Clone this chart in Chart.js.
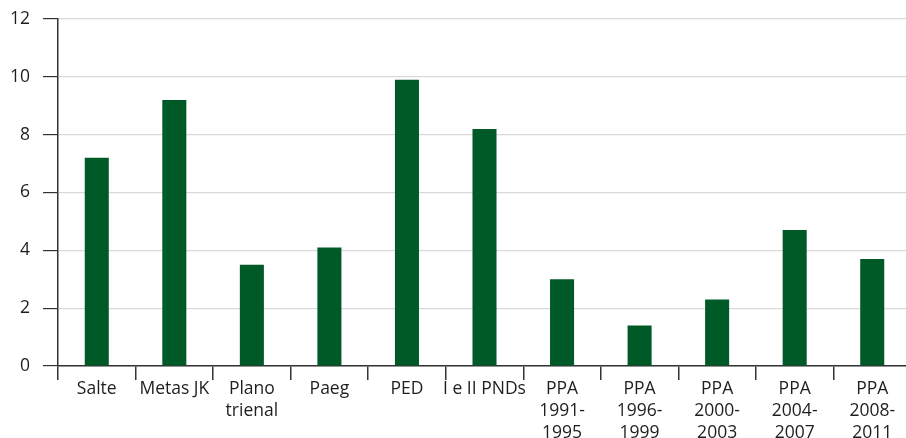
<!DOCTYPE html>
<html>
<head>
<meta charset="utf-8">
<script src="https://cdn.jsdelivr.net/npm/chart.js@4/dist/chart.umd.min.js"></script>
<style>
  html, body { margin: 0; padding: 0; background: #fff; overflow: hidden; }
  #wrap { width: 906px; height: 438px; overflow: hidden; }
  /* o grafico original passa um pouco da borda direita */
  #inner { width: 911px; height: 438px; position: relative; }
</style>
</head>
<body>
<div id="wrap"><div id="inner"><canvas id="grafico"></canvas></div></div>
<script>
// Dados
const categorias = [
  "Salte", "Metas JK", ["Plano", "trienal"], "Paeg", "PED", "I e II PNDs",
  ["PPA", "1991-", "1995"], ["PPA", "1996-", "1999"], ["PPA", "2000-", "2003"],
  ["PPA", "2004-", "2007"], ["PPA", "2008-", "2011"]
];
const valores = [7.2, 9.2, 3.5, 4.1, 9.9, 8.2, 3.0, 1.4, 2.3, 4.7, 3.7];
const ticksY = [0, 2, 4, 6, 8, 10, 12];

const verde = "#005a28";
const fonte = { family: "'Open Sans', 'Noto Sans', sans-serif", size: 17.5 };

const ctx = document.getElementById("grafico").getContext("2d");

new Chart(ctx, {
  type: "bar",
  data: {
    labels: categorias,
    datasets: [
      {
        data: valores,
        backgroundColor: verde,
        barPercentage: 0.31,
        categoryPercentage: 1,
      },
    ],
  },
  options: {
    responsive: true,
    maintainAspectRatio: false,
    animation: false,
    layout: { padding: { top: 19, left: 0, right: 0, bottom: 0 } },
    plugins: { legend: { display: false }, tooltip: { enabled: false } },
    scales: {
      x: {
        grid: {
          offset: true,
          drawOnChartArea: false,
          drawTicks: true,
          tickLength: 14,
          tickColor: "#333",
          lineWidth: 1.5,
        },
        border: { color: "#333", width: 1.5 },
        ticks: {
          color: "#1e1e1e",
          font: { ...fonte, lineHeight: 1.26 },
          padding: -2,
          autoSkip: false,
          maxRotation: 0,
          minRotation: 0,
        },
        afterFit: (scale) => {
          scale.height = 72;
          scale.paddingLeft = 0;
          scale.paddingRight = 0;
        },
      },
      y: {
        min: 0,
        max: 12,
        afterBuildTicks: (scale) => {
          scale.ticks = ticksY.map((v) => ({ value: v }));
        },
        grid: {
          color: "#d9d9d9",
          lineWidth: 1.2,
          tickColor: "#333",
          tickLength: 15,
        },
        border: { color: "#333", width: 1.5 },
        ticks: { color: "#1e1e1e", font: fonte, padding: 13 },
        afterFit: (scale) => {
          scale.width = 58;
          scale.paddingTop = 0;
          scale.paddingBottom = 0;
        },
      },
    },
  },
});
</script>
</body>
</html>
